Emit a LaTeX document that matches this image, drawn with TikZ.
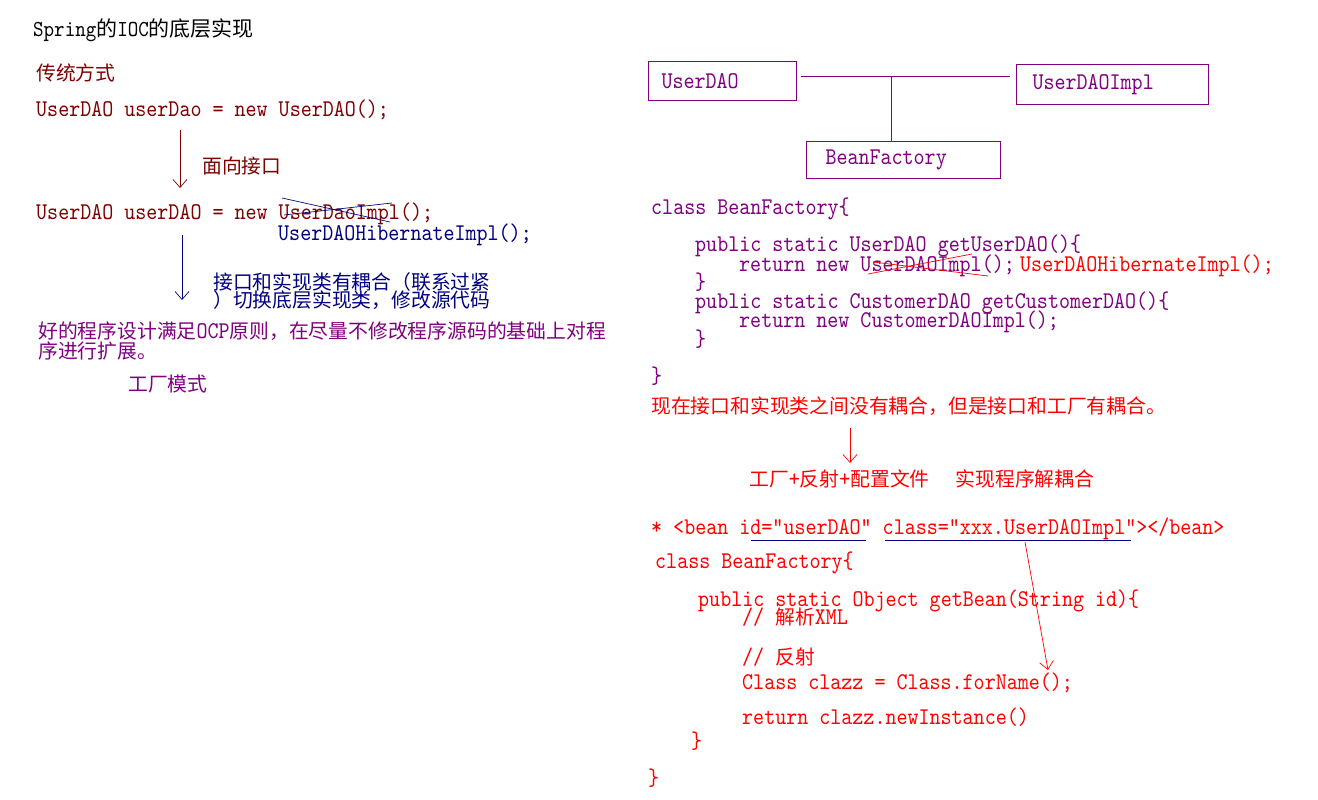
\documentclass[tikz,border=0pt]{standalone}
\usepackage{fontspec}
\newfontfamily\cjk{Noto Sans CJK SC}
\newfontfamily\codett{lmmono10-regular.otf}[FakeStretch=0.875]
\usetikzlibrary{arrows.meta}
\definecolor{dred}{RGB}{128,0,0}
\definecolor{navyc}{RGB}{0,0,128}
\definecolor{purp}{RGB}{128,0,128}
\definecolor{rred}{RGB}{255,0,0}
\newcommand\cf{\fontsize{24}{24}\selectfont\codett}
\newcommand\zh[1]{{\fontsize{19.8}{20}\selectfont\cjk #1}}
\newcommand\zhz[2]{{\fontsize{#1}{#1}\selectfont\cjk #2}}
\tikzset{
  codeline/.style={anchor=base west, inner sep=0pt, font=\cf},
  arr/.style={-{Straight Barb[length=8pt,width=14pt]}, line width=0.7pt},
  umlbox/.style={draw=purp, line width=1pt, anchor=north west, align=left,
    inner ysep=0pt, font=\cf, text=purp},
  strike/.style={line width=0.7pt},
}
\begin{document}
\begin{tikzpicture}[x=1pt,y=-1pt]
\fill[white] (0,0) rectangle (1318,800);
\useasboundingbox (0,0) rectangle (1318,800);

% ---------------- left column ----------------
\node[codeline, font=\fontsize{22.9}{23}\selectfont\codett] (title) at (33,37)
  {Spring\zhz{21}{的}IOC\zhz{21}{的底层实现}};
\node[codeline, dred] (trad) at (36,80.5) {\zh{传统方式}};
\node[codeline, dred] (l1) at (36,117) {UserDAO userDao = new UserDAO();};
\coordinate (a1s) at (180,130);
\coordinate (a1e) at (180,188);
\draw[arr, dred] (a1s) -- (a1e);
\node[codeline, dred] (mx) at (202,173.5) {\zh{面向接口}};
\node[codeline, dred] (l2) at (36,219) {UserDAO userDAO = new UserDaoImpl();};
\draw[strike, navyc] (282,198) -- (390,222);
\draw[strike, navyc] (284,215) -- (392,203);
\node[codeline, navyc] (l3) at (278,240) {UserDAOHibernateImpl();};
\coordinate (a2s) at (182,235);
\coordinate (a2e) at (182,300);
\draw[arr, navyc] (a2s) -- (a2e);
\node[codeline, navyc] (b1) at (213,289.5) {\zh{接口和实现类有耦合（联系过紧}};
\node[codeline, navyc] (b2) at (213,307.5) {\zh{）切换底层实现类，修改源代码}};
\node[codeline, purp] (p1) at (38,338)
  {\zh{好的程序设计满足}OCP\zh{原则，在尽量不修改程序源码的基础上对程}};
\node[codeline, purp] (p2) at (38,358) {\zh{序进行扩展。}};
\node[codeline, purp] (fm) at (128,391.5) {\zh{工厂模式}};

% ---------------- right column: boxes ----------------
\node[umlbox, text width=122pt, inner xsep=13pt, minimum height=39pt] (ud) at (648,61) {UserDAO};
\node[umlbox, text width=160pt, inner xsep=16pt, minimum height=40pt] (udi) at (1016,64) {UserDAOImpl};
\node[umlbox, text width=156pt, inner xsep=19pt, minimum height=37pt] (bf) at (806,141) {BeanFactory};
\coordinate (j) at (891,77);
\draw[purp, line width=1pt] ([xshift=4pt]ud.east |- j) -- ([xshift=-6pt]udi.west |- j);
\draw[purp, line width=1pt] (j) -- (bf.north -| j);

% ---------------- first BeanFactory ----------------
\node[codeline, purp] (c1) at (651,214) {class BeanFactory\{};
\node[codeline, purp] (c2) at (695,251) {public static UserDAO getUserDAO()\{};
\node[codeline, purp] (c3) at (739,271) {return new UserDAOImpl();};
\draw[strike, rred] (868,274) -- (972,254);
\draw[strike, rred] (873,262) -- (988,276);
\node[codeline, rred] (c3b) at (1020,271.5) {UserDAOHibernateImpl();};
\node[codeline, purp] (c4) at (695,289) {\}};
\node[codeline, purp] (c5) at (695,308) {public static CustomerDAO getCustomerDAO()\{};
\node[codeline, purp] (c6) at (739,327) {return new CustomerDAOImpl();};
\node[codeline, purp] (c7) at (695,346) {\}};
\node[codeline, purp] (c8) at (651,383) {\}};

\node[codeline, rred] (now) at (651,413.5) {\zh{现在接口和实现类之间没有耦合，但是接口和工厂有耦合。}};
\coordinate (a3s) at (850,428);
\coordinate (a3e) at (850,463);
\draw[arr, rred] (a3s) -- (a3e);
\node[codeline, rred] (fac) at (749,486.5)
  {\zh{工厂}+\zh{反射}+\zh{配置文件}\hspace{26pt}\zh{实现程序解耦合}};

% ---------------- second BeanFactory ----------------
\node[codeline, rred] (bean) at (651,534) {* <bean id="userDAO" class="xxx.UserDAOImpl"></bean>};
\draw[navyc, line width=0.8pt] (751,540) -- (866,540);
\draw[navyc, line width=0.8pt] (885,540) -- (1131,540);
\coordinate (a4s) at (1025,542);
\coordinate (a4e) at (1048,670);
\draw[arr, rred] (a4s) -- (a4e);

\node[codeline, rred] (d1) at (655,568) {class BeanFactory\{};
\node[codeline, rred] (d2) at (698,606) {public static Object getBean(String id)\{};
\node[codeline, rred] (d3) at (742,624.5) {// \zh{解析}XML};
\node[codeline, rred] (d4) at (742,664) {// \zh{反射}};
\node[codeline, rred] (d5) at (742,689) {Class clazz = Class.forName();};
\node[codeline, rred] (d6) at (742,724) {return clazz.newInstance()};
\node[codeline, rred] (d7) at (691,748) {\}};
\node[codeline, rred] (d8) at (648,785) {\}};
\end{tikzpicture}
\end{document}
